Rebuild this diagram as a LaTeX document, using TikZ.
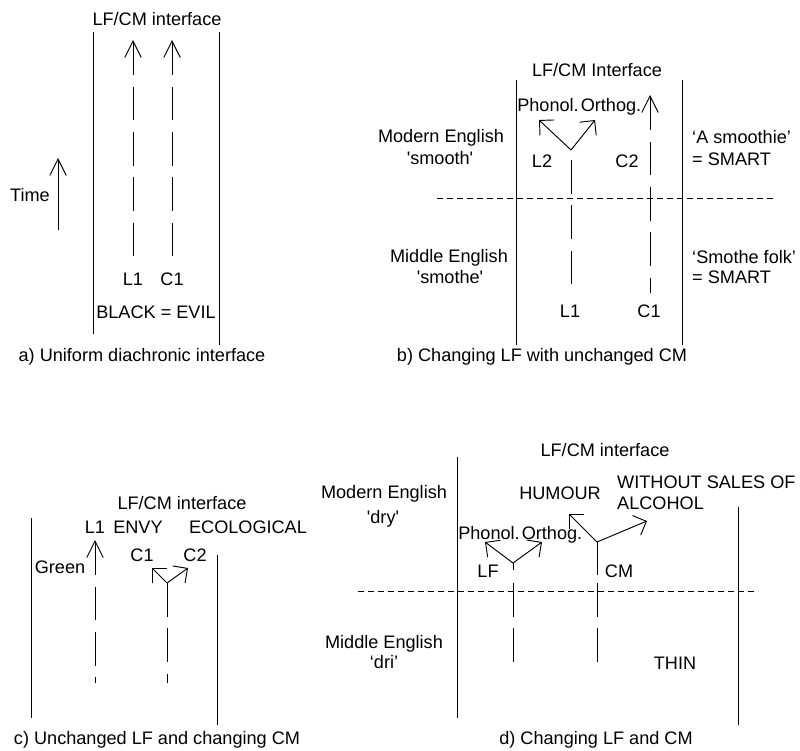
\documentclass[tikz,border=0pt]{standalone}
\usepackage{fontspec}
\setmainfont{Liberation Sans}
\usetikzlibrary{arrows.meta}
\tikzset{
  txt/.style={inner sep=0pt, text height=11pt, text depth=0pt, font=\fontsize{15.4}{18}\selectfont},
  wall/.style={line width=0.8pt},
  track/.style={dash pattern=on 28.5pt off 10pt},
  uparrow/.style={line width=0.8pt, {Straight Barb[length=14pt,width=14pt]}-},
  arm/.style={line width=0.8pt, -{Straight Barb[length=9pt,width=18pt]}},
  era/.style={line width=0.8pt, dash pattern=on 5pt off 3.5pt},
}

\begin{document}
\begin{tikzpicture}[x=0.85pt, y=-0.85pt]
    \useasboundingbox (0,0) rectangle (800,750);

    % a) uniform interface
    \node[txt] (aif) at (157,19) {LF/CM interface};
    \draw[wall] (93,32) -- (93,334);
    \draw[wall] (219,32) -- (219,345);
    \node[txt] (atime) at (30,195) {Time};
    \coordinate (atimetop) at (58,158);
    \coordinate (atimebot) at (58,230);
    \draw[uparrow] (atimetop) -- (atimebot);
    \coordinate (aLtop) at (133,40);
    \coordinate (aLbot) at (133,257);
    \coordinate (aCtop) at (172,40);
    \coordinate (aCbot) at (172,257);
    \draw[uparrow, track] (aLtop) -- (aLbot);
    \draw[uparrow, track] (aCtop) -- (aCbot);
    \node[txt] (aL1) at (133,279) {L1};
    \node[txt] (aC1) at (172,279) {C1};
    \node[txt] (aeq) at (156,312) {BLACK = EVIL};
    \node[txt] (acap) at (142,355) {a) Uniform diachronic interface};

    % b) changing LF
    \node[txt] (bif) at (597,70) {LF/CM Interface};
    \draw[wall] (516,80) -- (516,345);
    \draw[wall] (682,80) -- (682,345);
    \draw[era] (437,198) -- (773,198);
    \node[txt] (bmod) at (441,136) {Modern English};
    \node[txt] (bmodw) at (440,158) {\textquotesingle smooth\textquotesingle};
    \node[txt] (bmid) at (449,256) {Middle English};
    \node[txt] (bmidw) at (450,277) {\textquotesingle smothe\textquotesingle};
    \node[txt, anchor=west] (bnew) at (692,137) {‘A smoothie’};
    \node[txt, anchor=west] (bnewcm) at (692,159) {= SMART};
    \node[txt, anchor=west] (bold) at (692,257) {‘Smothe folk’};
    \node[txt, anchor=west] (boldcm) at (692,277) {= SMART};
    \node[txt] (bph) at (548,105) {Phonol.};
    \node[txt] (bor) at (611,105) {Orthog.};
    \coordinate (bfork) at (571,150);
    \coordinate (bphtip) at (539,120);
    \coordinate (bortip) at (595,120);
    \coordinate (bLbot) at (571,285);
    \coordinate (bLstem) at (571,160);
    \draw[arm] (bfork) -- (bphtip);
    \draw[arm] (bfork) -- (bortip);
    \draw[wall, track] (bLstem) -- (bLbot);
    \coordinate (bCtop) at (650,95);
    \coordinate (bCbot) at (650,293);
    \draw[uparrow, track] (bCtop) -- (bCbot);
    \node[txt] (bL2) at (542,161) {L2};
    \node[txt] (bC2) at (627,161) {C2};
    \node[txt] (bL1) at (570,311) {L1};
    \node[txt] (bC1) at (649,311) {C1};
    \node[txt] (bcap) at (542,355) {b) Changing LF with unchanged CM};

    % c) changing CM
    \node[txt] (cif) at (182,503) {LF/CM interface};
    \draw[wall] (31,518) -- (31,718);
    \draw[wall] (217,555) -- (217,725);
    \node[txt] (cL1) at (95,527) {L1};
    \node[txt] (cenvy) at (138,527) {ENVY};
    \node[txt] (ceco) at (248,527) {ECOLOGICAL};
    \node[txt] (cgreen) at (60,567) {Green};
    \node[txt] (cC1) at (142,555) {C1};
    \node[txt] (cC2) at (195,555) {C2};
    \coordinate (cLtop) at (95,540);
    \coordinate (cLbot) at (95,683);
    \draw[uparrow, track] (cLtop) -- (cLbot);
    \coordinate (cfork) at (167,583);
    \coordinate (cC1tip) at (152,568);
    \coordinate (cC2tip) at (188,568);
    \coordinate (cCbot) at (167,683);
    \draw[arm] (cfork) -- (cC1tip);
    \draw[arm] (cfork) -- (cC2tip);
    \draw[wall, track] (cfork) -- (cCbot);
    \node[txt] (ccap) at (157,738) {c) Unchanged LF and changing CM};

    % d) changing LF and CM
    \node[txt] (dif) at (605,450) {LF/CM interface};
    \draw[wall] (457,457) -- (457,718);
    \draw[wall] (738,507) -- (738,725);
    \draw[era] (358,591) -- (758,591);
    \node[txt] (dmod) at (384,492) {Modern English};
    \node[txt] (dmodw) at (383,517) {\textquotesingle dry\textquotesingle};
    \node[txt] (dmid) at (384,642) {Middle English};
    \node[txt] (dmidw) at (384,662) {‘dri’};
    \node[txt] (dhum) at (560,493) {HUMOUR};
    \node[txt, anchor=west] (dsale) at (617,482) {WITHOUT SALES OF};
    \node[txt, anchor=west] (dalc) at (617,503) {ALCOHOL};
    \node[txt] (dph) at (489,533) {Phonol.};
    \node[txt] (dor) at (552,533) {Orthog.};
    \coordinate (dLfork) at (513,563);
    \coordinate (dphtip) at (485,542);
    \coordinate (dortip) at (542,542);
    \coordinate (dLbot) at (513,662);
    \draw[arm] (dLfork) -- (dphtip);
    \draw[arm] (dLfork) -- (dortip);
    \draw[wall, dash pattern=on 6pt off 11pt on 29pt off 9.4pt on 29pt] (dLfork) -- (dLbot);
    \coordinate (dCfork) at (597,542);
    \coordinate (dhumtip) at (569,514);
    \coordinate (dsaletip) at (647,521);
    \coordinate (dCbot) at (597,662);
    \draw[arm] (dCfork) -- (dhumtip);
    \draw[arm] (dCfork) -- (dsaletip);
    \draw[wall, dash pattern=on 28pt off 7pt on 29pt off 9.4pt on 29pt] (dCfork) -- (dCbot);
    \node[txt] (dLF) at (488,571) {LF};
    \node[txt] (dCM) at (619,571) {CM};
    \node[txt] (dthin) at (675,663) {THIN};
    \node[txt] (dcap) at (596,738) {d) Changing LF and CM};
\end{tikzpicture}
\end{document}
